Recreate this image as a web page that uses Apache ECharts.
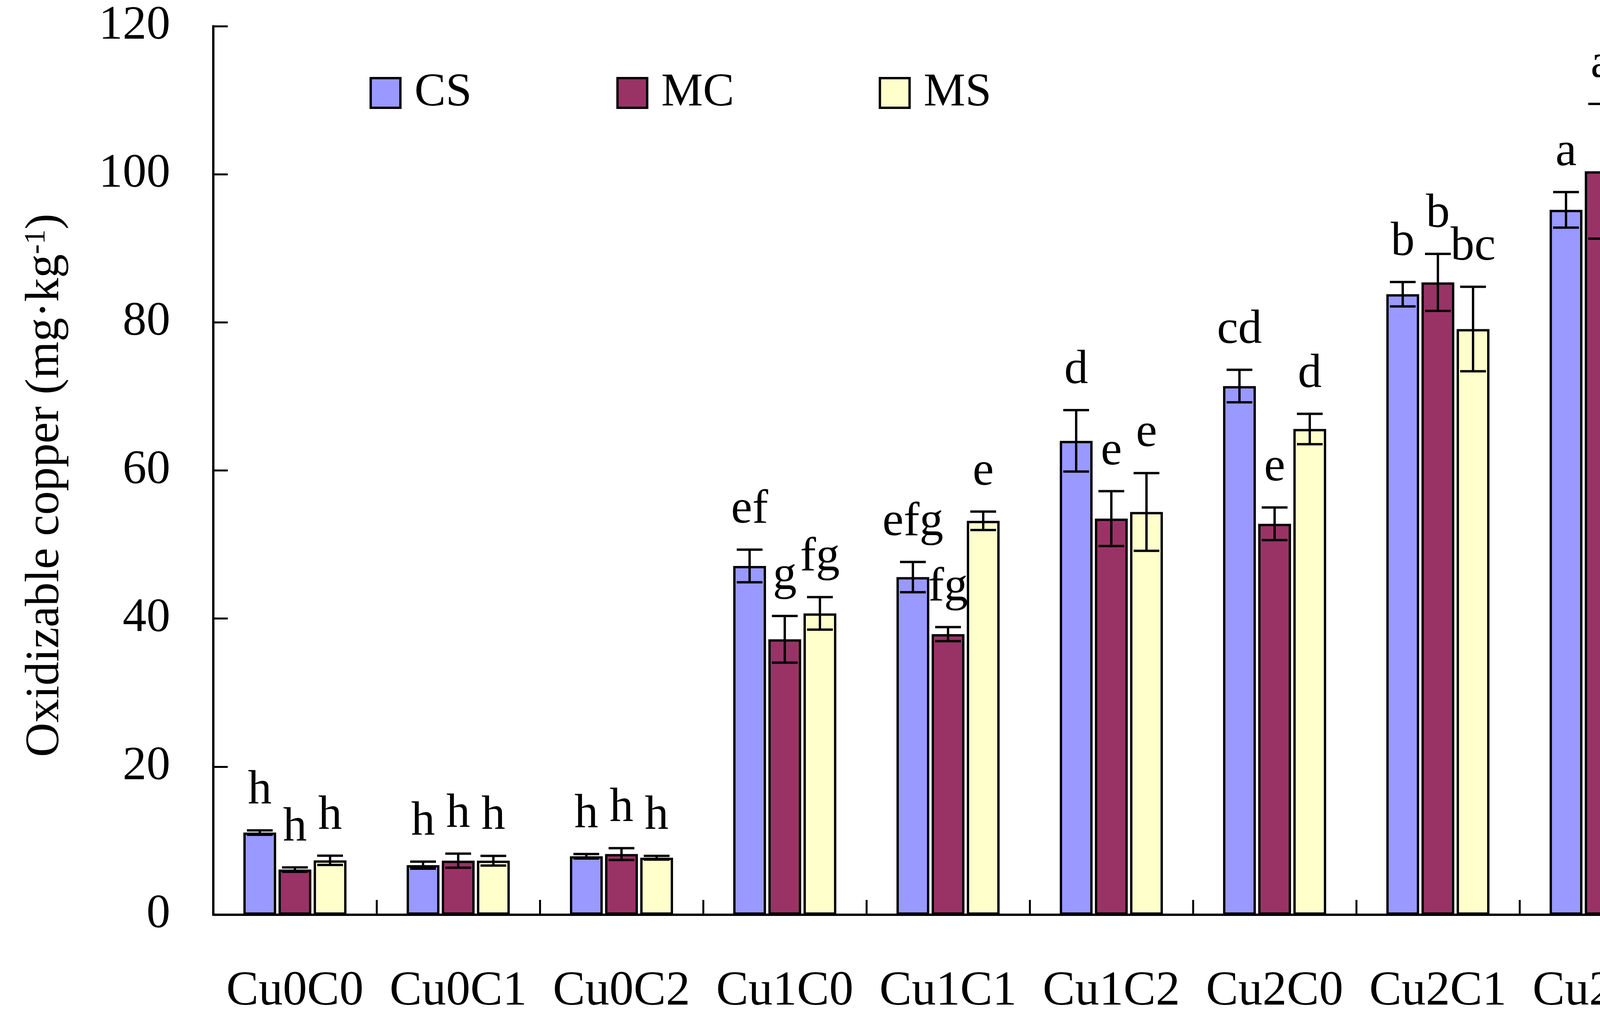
<!DOCTYPE html>
<html>
<head>
<meta charset="utf-8">
<script src="https://cdn.jsdelivr.net/npm/echarts@6/dist/echarts.min.js"></script>
<style>
html,body{margin:0;padding:0;background:#fff;overflow:hidden;}
#chart{width:4327px;height:2614px;}
</style>
</head>
<body>
<div id="chart"></div>
<script>
// ---- data ----
const categories = ['Cu0C0','Cu0C1','Cu0C2','Cu1C0','Cu1C1','Cu1C2','Cu2C0','Cu2C1','Cu2C2'];
const seriesNames = ['CS','MC','MS'];
const csMean = [11.1, 6.7, 7.9, 47.1, 45.6, 64.0, 71.4, 83.8, 95.2];
const csErr  = [0.3, 0.48, 0.3, 2.2, 2.05, 4.15, 2.2, 1.65, 2.4];
const mcMean = [6.1, 7.3, 8.2, 37.2, 37.9, 53.5, 52.8, 85.4, 100.4];
const mcErr  = [0.3, 0.95, 0.8, 3.15, 0.95, 3.7, 2.2, 3.85, 9.1];
const msMean = [7.35, 7.3, 7.7, 40.7, 53.2, 54.4, 65.6, 79.1, 81.8];
const msErr  = [0.63, 0.65, 0.25, 2.2, 1.25, 5.25, 2.05, 5.7, 2.7];
const csLetters = ['h','h','h','ef','efg','d','cd','b','a'];
const mcLetters = ['h','h','h','g','fg','e','e','b','a'];
const msLetters = ['h','h','h','fg','e','e','d','bc','b'];
const yTicks = [0, 20, 40, 60, 80, 100, 120];

// ---- style ----
const FONT = '"Liberation Serif", "Times New Roman", serif';
const colors = ['#9999FF', '#993366', '#FFFFCC'];
const BAR_W = 84, BORDER = 6, GAP_PX = 6;
const STEP = BAR_W + GAP_PX;
const CAP_HALF = 33;
const LABEL_GAP = 40;

const means = [csMean, mcMean, msMean];
const errs = [csErr, mcErr, msErr];
const letters = [csLetters, mcLetters, msLetters];

const chart = echarts.init(document.getElementById('chart'), null, {renderer: 'canvas'});

const barSeries = seriesNames.map((name, i) => ({
  name: name,
  type: 'bar',
  data: means[i],
  barWidth: BAR_W,
  barGap: (GAP_PX / BAR_W * 100).toFixed(2) + '%',
  itemStyle: {color: colors[i], borderColor: '#000', borderWidth: BORDER},
  z: 2
}));

const errSeries = seriesNames.map((name, i) => ({
  type: 'custom',
  name: name + '_err',
  data: categories.map((c, k) => [k, means[i][k], errs[i][k]]),
  z: 5,
  silent: true,
  renderItem: function (params, api) {
    const k = api.value(0), m = api.value(1), e = api.value(2);
    const base = api.coord([k, m]);
    const x = base[0] + (i - 1) * STEP;
    const top = api.coord([k, m + e])[1];
    const bot = api.coord([k, m - e])[1];
    const ls = {stroke: '#000', lineWidth: 6};
    return {
      type: 'group',
      children: [
        {type: 'line', shape: {x1: x, y1: top, x2: x, y2: bot}, style: ls},
        {type: 'line', shape: {x1: x - CAP_HALF, y1: top, x2: x + CAP_HALF, y2: top}, style: ls},
        {type: 'line', shape: {x1: x - CAP_HALF, y1: bot, x2: x + CAP_HALF, y2: bot}, style: ls},
        {type: 'text', x: x, y: top - LABEL_GAP,
          style: {text: letters[i][params.dataIndex], fontFamily: FONT, fontSize: 122,
                  fill: '#000', align: 'center', verticalAlign: 'bottom'}}
      ]
    };
  }
}));

const option = {
  backgroundColor: '#fff',
  animation: false,
  textStyle: {fontFamily: FONT, color: '#000'},
  grid: {left: 546, right: 19, top: 67, bottom: 272, containLabel: false},
  legend: {
    data: seriesNames,
    left: 946, top: 178,
    padding: 0,
    itemGap: 370,
    itemWidth: 76, itemHeight: 76,
    icon: 'rect',
    itemStyle: {borderColor: '#000', borderWidth: 6},
    textStyle: {fontFamily: FONT, fontSize: 120, color: '#000', padding: [0, 0, 0, 31]}
  },
  xAxis: {
    type: 'category',
    data: categories,
    axisLine: {lineStyle: {color: '#000', width: 6}},
    axisTick: {show: true, inside: true, length: 38, interval: 0, alignWithLabel: false,
               lineStyle: {color: '#000', width: 5}},
    axisLabel: {fontFamily: FONT, fontSize: 124, color: '#000', margin: 135, interval: 0},
    splitLine: {show: false}
  },
  yAxis: {
    type: 'value',
    min: yTicks[0], max: yTicks[yTicks.length - 1], interval: yTicks[1] - yTicks[0],
    axisLine: {show: true, lineStyle: {color: '#000', width: 6}},
    axisTick: {show: true, inside: true, length: 37, lineStyle: {color: '#000', width: 5}},
    axisLabel: {fontFamily: FONT, fontSize: 122, color: '#000', margin: 110},
    splitLine: {show: false},
    name: 'Oxidizable copper (mg·kg{sup|-1})',
    nameLocation: 'middle',
    nameGap: 368,
    nameTextStyle: {
      fontFamily: FONT, fontSize: 122, color: '#000', padding: [0, 76, 0, 0],
      rich: {sup: {fontFamily: FONT, fontSize: 76, color: '#000', verticalAlign: 'top', padding: [0, 0, 40, 0]}}
    }
  },
  series: barSeries.concat(errSeries)
};
chart.setOption(option);
</script>
</body>
</html>
